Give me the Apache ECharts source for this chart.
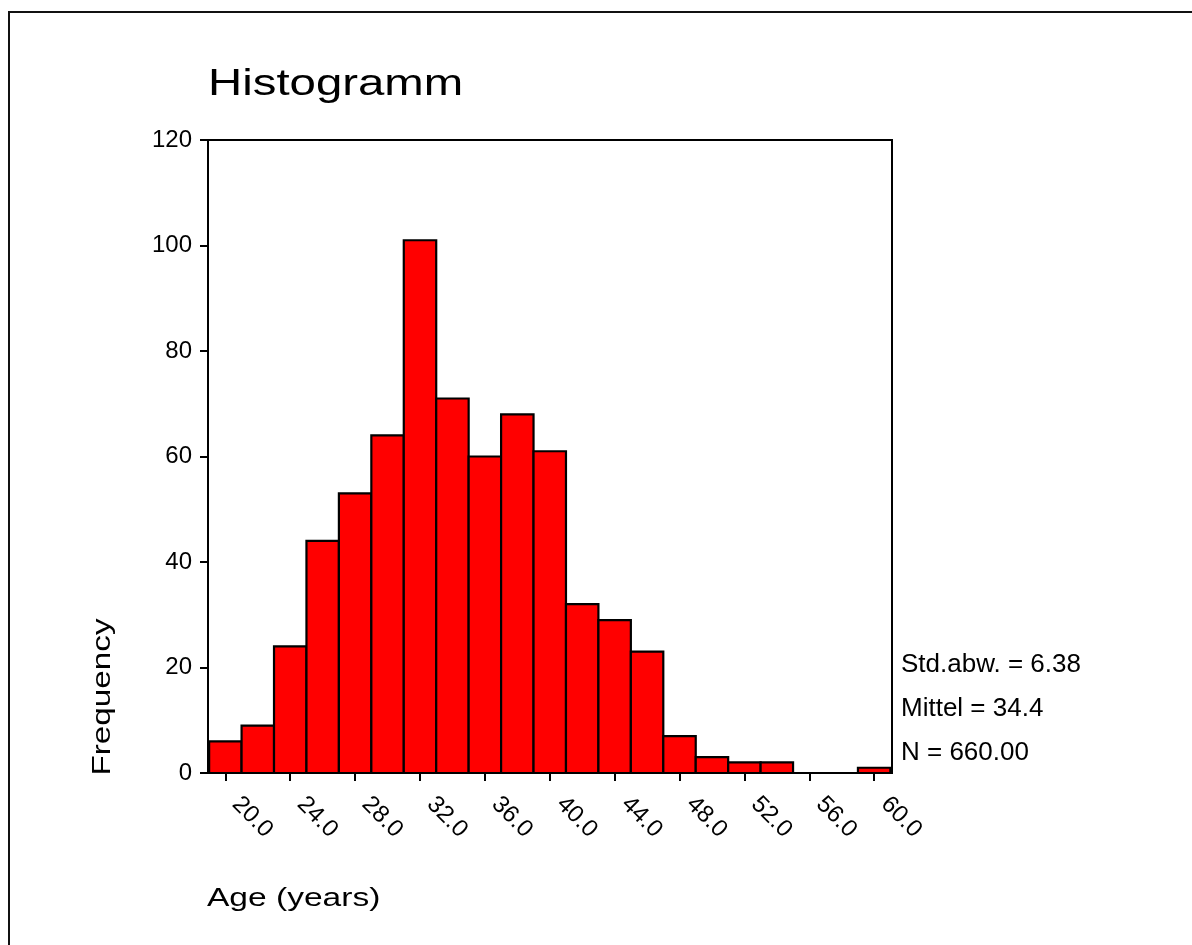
<!DOCTYPE html>
<html>
<head>
<meta charset="utf-8">
<script src="https://cdn.jsdelivr.net/npm/echarts@6/dist/echarts.min.js"></script>
<style>
html,body{margin:0;padding:0;background:#fff;}
#chart{width:1192px;height:945px;}
</style>
</head>
<body>
<div id="chart"></div>
<script>
// Data
const binCenters = [20,22,24,26,28,30,32,34,36,38,40,42,44,46,48,50,52,54,56,58,60];
const counts     = [6,9,24,44,53,64,101,71,60,68,61,32,29,23,7,3,2,2,0,0,1];
const binWidth = 2;
const xTicks = [20,24,28,32,36,40,44,48,52,56,60];
const yTicks = [0,20,40,60,80,100,120];
const statLines = ['Std.abw. = 6.38','Mittel = 34.4','N = 660.00'];
const titleText = 'Histogramm';
const xName = 'Age (years)';
const yName = 'Frequency';

const FONT = '"Liberation Sans", Arial, sans-serif';
const chart = echarts.init(document.getElementById('chart'), null, {renderer:'canvas'});

const data = binCenters.map((c,i)=>[c,counts[i]]);

const graphics = [
  {type:'rect', silent:true, shape:{x:9,y:12,width:1250,height:1000},
   style:{fill:'none', stroke:'#111', lineWidth:2}, z:0},
  {type:'text', x:208, y:85, scaleX:1.28,
   style:{text:titleText, font:'37px '+FONT, fill:'#000', textAlign:'left', textVerticalAlign:'middle'}},
  {type:'text', x:102.5, y:697, rotation:Math.PI/2, scaleX:1.28,
   style:{text:yName, font:'26px '+FONT, fill:'#000', textAlign:'center', textVerticalAlign:'middle'}},
  {type:'text', x:207, y:899, scaleX:1.29,
   style:{text:xName, font:'26px '+FONT, fill:'#000', textAlign:'left', textVerticalAlign:'middle'}}
];
const statY = [664.7, 708.7, 752.8];
statLines.forEach((t,i)=>{
  graphics.push({type:'text', x:901, y:statY[i], scaleX:1.04,
    style:{text:t, font:'25px '+FONT, fill:'#000', textAlign:'left', textVerticalAlign:'middle'}});
});

chart.setOption({
  animation:false,
  backgroundColor:'#fff',
  grid:{show:true, left:208, right:300, top:140, bottom:172, borderColor:'#000', borderWidth:2, backgroundColor:'transparent'},
  xAxis:{
    type:'value', min:18.93, max:61.1,
    axisLine:{show:true, onZero:false, lineStyle:{color:'#000', width:2}},
    axisTick:{show:true, length:8, customValues:xTicks, lineStyle:{color:'#000', width:2}},
    axisLabel:{show:true, customValues:xTicks, rotate:-45, margin:17, padding:[0,0,0,15],
      formatter:v=>Number(v).toFixed(1), color:'#000', fontSize:24, fontFamily:FONT},
    splitLine:{show:false}
  },
  yAxis:{
    type:'value', min:yTicks[0], max:yTicks[yTicks.length-1], interval:yTicks[1]-yTicks[0],
    axisLine:{show:true, lineStyle:{color:'#000', width:2}},
    axisTick:{show:true, length:8, lineStyle:{color:'#000', width:2}},
    axisLabel:{show:true, margin:16, color:'#000', fontSize:24, fontFamily:FONT},
    splitLine:{show:false}
  },
  series:[{
    type:'custom',
    data:data,
    encode:{x:0, y:1},
    renderItem:function(params, api){
      const c = api.value(0), v = api.value(1);
      if (v <= 0) return null;
      const p0 = api.coord([c - binWidth/2, v]);
      const p1 = api.coord([c + binWidth/2, 0]);
      return {type:'rect',
        shape:{x:p0[0], y:p0[1], width:p1[0]-p0[0], height:p1[1]-p0[1]},
        style:{fill:'#ff0000', stroke:'#000', lineWidth:2.2}};
    }
  }],
  graphic:graphics
});
</script>
</body>
</html>
